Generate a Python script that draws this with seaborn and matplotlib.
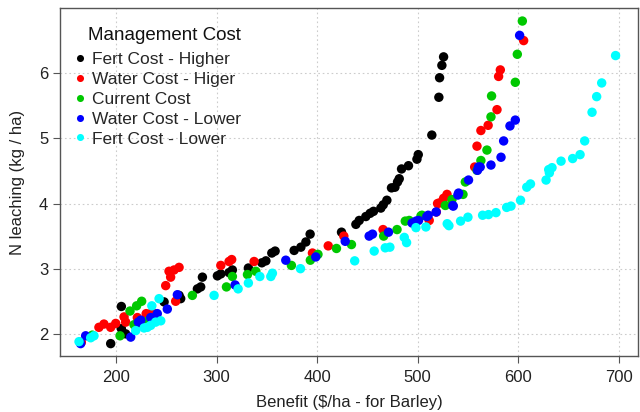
import numpy as np
import pandas as pd
import matplotlib
matplotlib.use("Agg")
import matplotlib.pyplot as plt
import seaborn as sns

categories = ["Fert Cost - Higher", "Water Cost - Higer", "Current Cost",
              "Water Cost - Lower", "Fert Cost - Lower"]
colors = ["#000000", "#ff0000", "#00c800", "#0000ff", "#00ffff"]

fert_high_x = [194.7, 205.3, 209.6, 205.3, 222.9, 247.8, 262.7, 264.3, 280.9, 284.2, 285.9,
               300.8, 304.2, 312.4, 315.7, 331.6, 345, 349, 354.9, 358.2, 377.1, 383.8,
               388.8, 393, 424.2, 438.5, 441.8, 448.4, 452.7, 456, 463.3, 465.7, 469.3,
               473.9, 477.3, 479.9, 481.6, 483.9, 490.8, 499.2, 500.5, 514, 521, 521.7,
               524, 525.7]
fert_high_y = [1.85, 2.08, 2.00, 2.42, 2.17, 2.49, 2.59, 2.54, 2.69, 2.72, 2.87,
               2.89, 2.92, 2.94, 2.98, 3.01, 3.09, 3.12, 3.24, 3.27, 3.28, 3.33,
               3.41, 3.53, 3.56, 3.68, 3.74, 3.80, 3.85, 3.88, 3.93, 3.98, 4.05,
               4.24, 4.25, 4.33, 4.38, 4.53, 4.58, 4.68, 4.75, 5.05, 5.63, 5.93,
               6.12, 6.25]

water_high_x = [165.5, 183, 188, 194.7, 199.7, 208, 209.6, 221.2, 230, 236, 249.4, 254.3,
                252.7, 257.7, 262.7, 259.3, 304.2, 312.4, 315, 337.3, 395.3, 411, 426.5,
                465.5, 511.4, 518.5, 519.7, 521.8, 525.7, 529.1, 556.6, 558.9, 562.8,
                570, 578.8, 580.4, 582.1, 605.3]
water_high_y = [1.87, 2.10, 2.15, 2.10, 2.16, 2.26, 2.18, 2.25, 2.31, 2.33, 2.74, 2.87,
                2.96, 2.98, 3.02, 2.50, 3.05, 3.11, 3.14, 3.11, 3.24, 3.35, 3.50,
                3.60, 3.74, 3.87, 4.00, 4.01, 4.08, 4.14, 4.56, 4.88, 5.12,
                5.20, 5.44, 5.95, 6.05, 6.50]

current_x = [176.4, 204, 213.9, 217.9, 220.5, 225.5, 232, 275.9, 309.8, 315.7, 330.7, 339,
             374.4, 393.2, 400.8, 419.2, 434.1, 466.1, 479.4, 487.6, 491.5, 503.2, 504.2,
             527.4, 534, 545, 547.3, 558.9, 562.8, 568.8, 572.8, 573.4, 597, 599, 604]
current_y = [1.98, 1.97, 2.35, 2.14, 2.43, 2.50, 2.20, 2.59, 2.72, 2.88, 2.91, 2.96,
             3.05, 3.13, 3.22, 3.31, 3.37, 3.50, 3.60, 3.73, 3.74, 3.81, 3.82,
             3.97, 4.06, 4.14, 4.33, 4.51, 4.66, 4.82, 5.33, 5.65, 5.86, 6.29, 6.80]

water_low_x = [164.8, 169.8, 214.6, 222.2, 224.6, 234.5, 241, 251, 261, 318.4, 368.8, 398.6,
               427.9, 451.7, 455, 470.9, 494.4, 498.4, 500.8, 509, 510.4, 518.3, 534.9,
               535.3, 539.9, 540.6, 550.5, 559.4, 560.4, 562.1, 572.8, 582.8, 585.4,
               591.7, 597, 601.3]
water_low_y = [1.85, 1.97, 1.95, 2.18, 2.21, 2.25, 2.31, 2.38, 2.60, 2.75, 3.13, 3.18,
               3.42, 3.50, 3.53, 3.56, 3.70, 3.73, 3.74, 3.80, 3.82, 3.87, 3.97,
               3.96, 4.13, 4.16, 4.36, 4.51, 4.56, 4.56, 4.59, 4.71, 4.96,
               5.19, 5.28, 6.58]

fert_low_x = [163.2, 174.8, 178.1, 219.6, 227.9, 231.1, 234.5, 239.4, 244.5, 235.6, 242.8,
              297.5, 321.4, 331.6, 343, 353.9, 355.5, 383.4, 437.3, 456.7, 467.7, 472.3,
              486.6, 488.9, 498.2, 508.1, 529.3, 531, 542.6, 549.9, 564.5, 570.4, 577.8,
              588.4, 592.7, 602.2, 608.4, 612.1, 627.6, 630.9, 630.2, 633.5, 642.5, 654,
              661.4, 666, 673.3, 677.9, 682.9, 696.7]
fert_low_y = [1.88, 1.94, 1.97, 2.05, 2.09, 2.10, 2.13, 2.18, 2.20, 2.43, 2.54,
              2.59, 2.69, 2.78, 2.88, 2.88, 2.93, 3.00, 3.12, 3.27, 3.32, 3.33,
              3.48, 3.40, 3.63, 3.64, 3.69, 3.66, 3.73, 3.79, 3.82, 3.83, 3.86,
              3.94, 3.96, 4.05, 4.25, 4.30, 4.36, 4.47, 4.52, 4.55, 4.65, 4.69,
              4.75, 4.96, 5.40, 5.64, 5.85, 6.27]

xticks = [200, 300, 400, 500, 600, 700]
yticks = [2, 3, 4, 5, 6]
legend_title = "Management Cost"

series = [(fert_high_x, fert_high_y), (water_high_x, water_high_y), (current_x, current_y),
          (water_low_x, water_low_y), (fert_low_x, fert_low_y)]
frames = []
for cat, (xs, ys) in zip(categories, series):
    frames.append(pd.DataFrame({"benefit": xs, "leach": ys, "cost": cat}))
df = pd.concat(frames, ignore_index=True)

sns.set_theme(style="white")
plt.rcParams['font.family'] = ['Liberation Sans', 'DejaVu Sans']

W, H = 640, 412
fig = plt.figure(figsize=(6.4, 4.12), dpi=100)
ax = fig.add_axes([60 / W, (H - 356) / H, 578 / W, 348 / H])

sns.scatterplot(data=df, x="benefit", y="leach", hue="cost", hue_order=categories,
                palette=dict(zip(categories, colors)), s=46, linewidth=0, ax=ax)

ax.set_xlim(144.3, 719)
ax.set_ylim(1.66, 7.0)
ax.set_xticks(xticks)
ax.set_yticks(yticks)
ax.set_xticklabels([str(t) for t in xticks])
ax.set_yticklabels([str(t) for t in yticks])
ax.grid(True, linestyle=(0, (1.5, 2.5)), color="#cccccc", linewidth=0.8)
ax.set_axisbelow(True)
for sp in ax.spines.values():
    sp.set_color("#555555")
    sp.set_linewidth(1.0)
ax.tick_params(axis="both", which="major", direction="out", length=5, width=0.8,
               color="#555555", labelsize=12, labelcolor="#222222",
               bottom=True, left=True)
ax.tick_params(axis="x", pad=5)
ax.tick_params(axis="y", pad=3.5)
ax.set_xlabel(r"Benefit (\$/ha - for Barley)", fontsize=12, color="#222222", labelpad=7)
ax.set_ylabel("N leaching (kg / ha)", fontsize=12, color="#222222", labelpad=10)

leg = ax.legend(loc="upper left", bbox_to_anchor=(71.5 / W, 1 - 52 / H),
                bbox_transform=fig.transFigure,
                frameon=False, fontsize=12.5, markerscale=0.75,
                handletextpad=0.2, labelspacing=0.27, borderaxespad=0, borderpad=0,
                handlelength=1.0)
fig.text(88 / W, 1 - 36 / H, legend_title, fontsize=13.5, color="#111111",
         ha="left", va="center")

fig.savefig("out.png", dpi=100)
